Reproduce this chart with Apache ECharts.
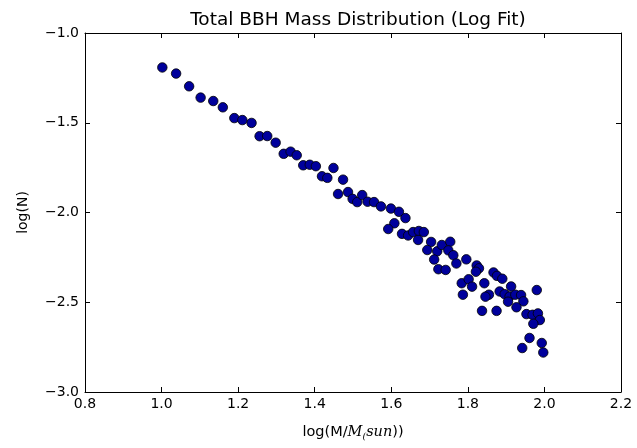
<!DOCTYPE html>
<html>
<head>
<meta charset="utf-8">
<title>Total BBH Mass Distribution</title>
<script src="https://cdn.jsdelivr.net/npm/echarts@6/dist/echarts.min.js"></script>
</head>
<body style="margin:0;padding:0;background:#fff">
<div id="chart" style="width:637px;height:448px;"></div>
<script type="text/javascript">
// data
var logMass = [1.002, 1.038, 1.072, 1.102, 1.135, 1.160, 1.190, 1.211, 1.235, 1.256,
  1.276, 1.298, 1.319, 1.337, 1.353, 1.370, 1.387, 1.403, 1.419, 1.433,
  1.449, 1.461, 1.474, 1.487, 1.499, 1.511, 1.524, 1.538, 1.555, 1.573,
  1.599, 1.620, 1.637, 1.608, 1.592, 1.628, 1.644, 1.657, 1.672, 1.685,
  1.670, 1.704, 1.694, 1.720, 1.732, 1.754, 1.749, 1.762, 1.712, 1.723,
  1.742, 1.770, 1.796, 1.823, 1.829, 1.821, 1.784, 1.802, 1.811, 1.787,
  1.843, 1.867, 1.876, 1.890, 1.913, 1.883, 1.896, 1.909, 1.924, 1.939,
  1.945, 1.855, 1.846, 1.905, 1.927, 1.980, 1.837, 1.875, 1.953, 1.969,
  1.983, 1.988, 1.971, 1.961, 1.942, 1.993, 1.997];
var logN = [-1.192, -1.226, -1.297, -1.360, -1.379, -1.414, -1.474, -1.485, -1.501, -1.575,
  -1.574, -1.611, -1.673, -1.661, -1.681, -1.737, -1.734, -1.742, -1.798, -1.807,
  -1.752, -1.897, -1.817, -1.886, -1.924, -1.942, -1.903, -1.940, -1.942, -1.966,
  -1.978, -1.996, -2.031, -2.060, -2.092, -2.119, -2.128, -2.109, -2.103, -2.109,
  -2.153, -2.164, -2.209, -2.216, -2.181, -2.163, -2.211, -2.238, -2.262, -2.316,
  -2.320, -2.284, -2.261, -2.295, -2.311, -2.330, -2.394, -2.372, -2.413, -2.458,
  -2.394, -2.334, -2.353, -2.369, -2.412, -2.440, -2.455, -2.468, -2.458, -2.460,
  -2.495, -2.458, -2.469, -2.497, -2.528, -2.432, -2.548, -2.548, -2.566, -2.570,
  -2.562, -2.599, -2.620, -2.699, -2.755, -2.727, -2.780];

var points = logMass.map(function (x, i) { return [x, logN[i]]; });

var font = 'DejaVu Sans';
function minus(v) { return v.toFixed(1).replace('-', '\u2212'); }

var tick = { show: true, inside: true, length: 5, lineStyle: { color: '#000', width: 1 } };
var line = { show: true, onZero: false, lineStyle: { color: '#000', width: 1 } };

var chart = echarts.init(document.getElementById('chart'));
var option = {
  animation: false,
  backgroundColor: '#fff',
  title: {
    text: 'Total BBH Mass Distribution (Log Fit)',
    left: 353,
    textAlign: 'center',
    top: 6,
    textStyle: { fontFamily: font, fontSize: 18.5, fontWeight: 'normal', color: '#000' }
  },
  grid: { left: 85, right: 16, top: 33, bottom: 56 },
  xAxis: [{
    type: 'value', min: 0.8, max: 2.2, interval: 0.2,
    axisLine: line, axisTick: tick, splitLine: { show: false },
    axisLabel: { fontFamily: font, fontSize: 14, color: '#000', margin: 5, formatter: function (v) { return v.toFixed(1); } },
    name: '{n|log(M/}{i|M}{s|(}{i|sun}{n|))}',
    nameLocation: 'middle', nameGap: 31,
    nameTextStyle: {
      rich: {
        n: { fontFamily: font, fontSize: 14.5, color: '#000' },
        i: { fontFamily: 'DejaVu Serif', fontStyle: 'italic', fontSize: 14.5, color: '#000' },
        s: { fontFamily: 'DejaVu Serif', fontStyle: 'italic', fontSize: 9.5, color: '#000', padding: [9, 0, 0, 0] }
      }
    }
  }, {
    type: 'value', position: 'top', min: 0.8, max: 2.2, interval: 0.2,
    axisLine: line, axisTick: tick, axisLabel: { show: false }, splitLine: { show: false }
  }],
  yAxis: [{
    type: 'value', min: -3, max: -1, interval: 0.5,
    axisLine: line, axisTick: tick, splitLine: { show: false },
    axisLabel: { fontFamily: font, fontSize: 14, color: '#000', margin: 6, formatter: minus },
    name: 'log(N)', nameLocation: 'middle', nameGap: 55, nameRotate: 90,
    nameTextStyle: { fontFamily: font, fontSize: 14, color: '#000' }
  }, {
    type: 'value', position: 'right', min: -3, max: -1, interval: 0.5,
    axisLine: line, axisTick: tick, axisLabel: { show: false }, splitLine: { show: false }
  }],
  series: [{
    type: 'scatter',
    data: points,
    symbolSize: 9.5,
    itemStyle: { color: '#00009c', borderColor: '#000', borderWidth: 0.8, opacity: 1 }
  }]
};
chart.setOption(option);
</script>
</body>
</html>
